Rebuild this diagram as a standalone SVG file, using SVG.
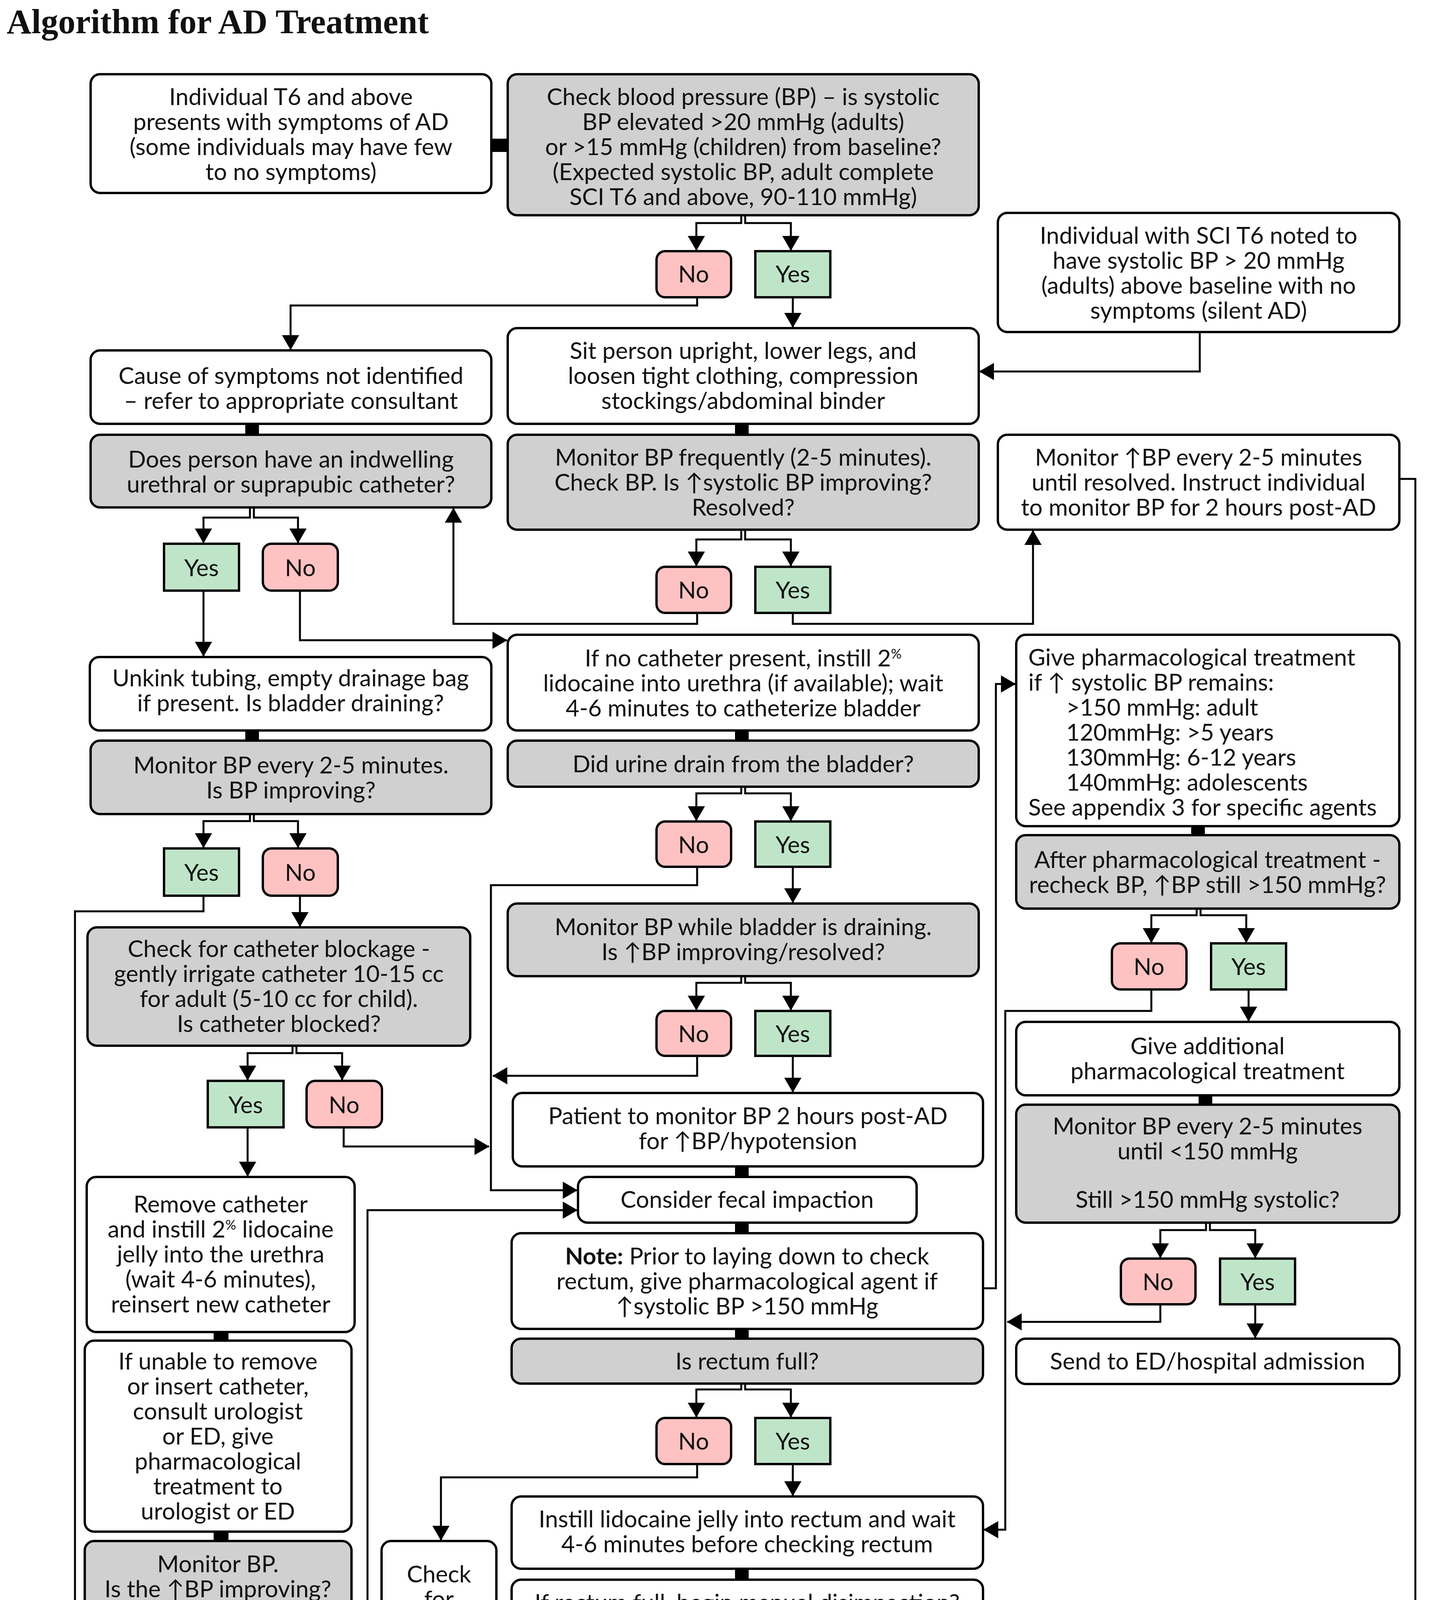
<svg xmlns="http://www.w3.org/2000/svg" width="3682" height="5346" viewBox="0 0 3682 5346">
<style>
.w{fill:#fff;stroke:#000;stroke-width:6}
.g{fill:#d0d0d0;stroke:#000;stroke-width:6}
.y{fill:#bfe5c9;stroke:#000;stroke-width:6}
.n{fill:#ffc2c2;stroke:#000;stroke-width:6}
.c{fill:none;stroke:#000;stroke-width:5}
.k{fill:#000}
text{font-family:Lato,"Liberation Sans","DejaVu Sans",sans-serif;font-size:60px;fill:#111;text-anchor:middle}
.l{text-anchor:start}
.t{font-family:"Liberation Serif",serif;font-weight:bold;font-size:88px;text-anchor:start}
</style>
<defs>
<marker id="a" viewBox="0 0 38 44" refX="37" refY="22" markerWidth="38" markerHeight="44" markerUnits="userSpaceOnUse" orient="auto"><path d="M0,0 L38,22 L0,44 z"/></marker>
</defs>
<rect width="3682" height="5346" fill="#fff"/>
<text class="t" x="17" y="85">Algorithm for AD Treatment</text>

<g id="connectors">
<g class="c" marker-end="url(#a)">
<path d="M1898,551 V571 H1783 V641"/><path d="M1908,551 V571 H2025 V641"/>
<path d="M640,1299 V1325 H521 V1390"/><path d="M650,1299 V1325 H763 V1390"/>
<path d="M1898,1356 V1381 H1783 V1449"/><path d="M1908,1356 V1381 H2025 V1449"/>
<path d="M640,2084 V2102 H521 V2170"/><path d="M650,2084 V2102 H763 V2170"/>
<path d="M1898,2014 V2031 H1783 V2101"/><path d="M1908,2014 V2031 H2025 V2101"/>
<path d="M3064,2326 V2343 H2948 V2413"/><path d="M3074,2326 V2343 H3191 V2413"/>
<path d="M749,2677 V2696 H634 V2765"/><path d="M759,2677 V2696 H876 V2765"/>
<path d="M1898,2499 V2516 H1783 V2586"/><path d="M1908,2499 V2516 H2025 V2586"/>
<path d="M3088,3130 V3149 H2971 V3220"/><path d="M3098,3130 V3149 H3214 V3220"/>
<path d="M1898,3542 V3557 H1783 V3628"/><path d="M1908,3542 V3557 H2025 V3628"/>
<path d="M555,4128 V4152 H437 V4222"/><path d="M565,4128 V4152 H682 V4222"/>
<path d="M3088,4369 V4390 H2971 V4459"/><path d="M3098,4369 V4390 H3214 V4459"/>
<path d="M716,5009 V5032 H599 V5102"/><path d="M726,5009 V5032 H843 V5102"/>
<path d="M3088,5008 V5032 H2971 V5102"/><path d="M3098,5008 V5032 H3214 V5102"/>
<path d="M1785,761 V782 H744 V895"/>
<path d="M2030,761 V838"/>
<path d="M3072,850 V951 H2508"/>
<path d="M521,1512 V1680"/>
<path d="M768,1512 V1639 H1298"/>
<path d="M1785,1569 V1597 H1161 V1301"/>
<path d="M2030,1569 V1597 H2645 V1358"/>
<path d="M521,2293 V2333 H192 V4533 H433"/>
<path d="M768,2293 V2372"/>
<path d="M1785,2219 V2266 H1257 V3047 H1478"/>
<path d="M2030,2219 V2311"/>
<path d="M2948,2533 V2588 H2574 V3916 H2519"/>
<path d="M3197,2533 V2614"/>
<path d="M1785,2703 V2754 H1262"/>
<path d="M2030,2703 V2796"/>
<path d="M634,2886 V3011"/>
<path d="M880,2886 V2935 H1252"/>
<path d="M2971,3339 V3384 H2579"/>
<path d="M3214,3339 V3425"/>
<path d="M2517,3298 H2550 V1751 H2600"/>
<path d="M1785,3748 V3782 H1129 V3943"/>
<path d="M2030,3748 V3829"/>
<path d="M685,4342 V4368 H941 V3098 H1478"/>
<path d="M437,4342 V4760"/>
<path d="M1129,4368 V4871 H1253"/>
<path d="M2453,4275 H2600"/>
<path d="M2965,4581 V4712 H2854 V4870 H2574"/>
<path d="M3214,4581 V4760"/>
<path d="M3583,1226 H3624 V4652 H3218"/>
<path d="M595,5220 V5296 H1161 V5175 H1253"/>
<path d="M848,5220 V5259 H1053 V4937 H1253"/>
<path d="M2966,5220 V5260 H2758 V4937 H2574"/>
<path d="M3219,5220 V5296 H2656 V5177 H2574"/>
</g>
<g class="k">
<rect x="1258" y="355" width="42" height="34"/>
<rect x="628" y="1085" width="35" height="28"/>
<rect x="628" y="1870" width="35" height="26"/>
<rect x="547" y="3410" width="38" height="22"/>
<rect x="547" y="3921" width="38" height="24"/>
<rect x="1882" y="1085" width="35" height="28"/>
<rect x="1882" y="1870" width="35" height="26"/>
<rect x="1882" y="2986" width="35" height="27"/>
<rect x="1882" y="3130" width="35" height="27"/>
<rect x="1882" y="3402" width="35" height="25"/>
<rect x="1882" y="4016" width="35" height="28"/>
<rect x="1882" y="4160" width="35" height="22"/>
<rect x="1882" y="4369" width="35" height="28"/>
<rect x="1882" y="4699" width="35" height="29"/>
<rect x="1882" y="5031" width="35" height="26"/>
<rect x="3050" y="2115" width="35" height="23"/>
<rect x="3069" y="2804" width="35" height="24"/>
</g>
</g>

<g id="n_start"><rect class="w" x="232" y="190" width="1026" height="304" rx="24"/>
<text x="745" y="269">Individual T6 and above</text><text x="745" y="333">presents with symptoms of AD</text><text x="745" y="397">(some individuals may have few</text><text x="745" y="461">to no symptoms)</text></g>

<g id="n_checkbp"><rect class="g" x="1300" y="190" width="1206" height="361" rx="24"/>
<text x="1903" y="269">Check blood pressure (BP) – is systolic</text><text x="1903" y="333">BP elevated &gt;20 mmHg (adults)</text><text x="1903" y="397">or &gt;15 mmHg (children) from baseline?</text><text x="1903" y="461">(Expected systolic BP, adult complete</text><text x="1903" y="525">SCI T6 and above, 90-110 mmHg)</text></g>

<g id="no1"><rect class="n" x="1681" y="643" width="191" height="118" rx="22"/><text x="1776" y="723">No</text></g>
<g id="yes1"><rect class="y" x="1934" y="643" width="192" height="118"/><text x="2030" y="723">Yes</text></g>

<g id="n_silent"><rect class="w" x="2555" y="545" width="1028" height="305" rx="24"/>
<text x="3069" y="624">Individual with SCI T6 noted to</text><text x="3069" y="688">have systolic BP &gt; 20 mmHg</text><text x="3069" y="752">(adults) above baseline with no</text><text x="3069" y="816">symptoms (silent AD)</text></g>

<g id="n_cause"><rect class="w" x="232" y="897" width="1026" height="188" rx="24"/>
<text x="745" y="983">Cause of symptoms not identified</text><text x="745" y="1047">– refer to appropriate consultant</text></g>

<g id="n_sit"><rect class="w" x="1300" y="840" width="1206" height="245" rx="24"/>
<text x="1903" y="919">Sit person upright, lower legs, and</text><text x="1903" y="983">loosen tight clothing, compression</text><text x="1903" y="1047">stockings/abdominal binder</text></g>

<g id="n_cath"><rect class="g" x="232" y="1113" width="1026" height="186" rx="24"/>
<text x="745" y="1197">Does person have an indwelling</text><text x="745" y="1261">urethral or suprapubic catheter?</text></g>

<g id="n_monfreq"><rect class="g" x="1300" y="1113" width="1206" height="243" rx="24"/>
<text x="1903" y="1192">Monitor BP frequently (2-5 minutes).</text><text x="1903" y="1256">Check BP. Is ↑systolic BP improving?</text><text x="1903" y="1320">Resolved?</text></g>

<g id="n_monres"><rect class="w" x="2555" y="1113" width="1028" height="243" rx="24"/>
<text x="3069" y="1192">Monitor ↑BP every 2-5 minutes</text><text x="3069" y="1256">until resolved. Instruct individual</text><text x="3069" y="1320">to monitor BP for 2 hours post-AD</text></g>

<g id="yes2"><rect class="y" x="420" y="1392" width="192" height="120"/><text x="516" y="1475">Yes</text></g>
<g id="no2"><rect class="n" x="673" y="1392" width="192" height="120" rx="22"/><text x="769" y="1475">No</text></g>
<g id="no3"><rect class="n" x="1681" y="1451" width="191" height="118" rx="22"/><text x="1776" y="1532">No</text></g>
<g id="yes3"><rect class="y" x="1934" y="1451" width="192" height="118"/><text x="2030" y="1532">Yes</text></g>

<g id="n_unkink"><rect class="w" x="230" y="1682" width="1028" height="188" rx="24"/>
<text x="744" y="1757">Unkink tubing, empty drainage bag</text><text x="744" y="1821">if present. Is bladder draining?</text></g>

<g id="n_nocath"><rect class="w" x="1300" y="1625" width="1206" height="245" rx="24"/>
<text x="1903" y="1706">If no catheter present, instill 2<tspan font-size="34" dy="-20">%</tspan></text><text x="1903" y="1770">lidocaine into urethra (if available); wait</text><text x="1903" y="1834">4-6 minutes to catheterize bladder</text></g>

<g id="n_pharm"><rect class="w" x="2602" y="1625" width="981" height="490" rx="24"/>
<text class="l" x="2633" y="1704">Give pharmacological treatment</text><text class="l" x="2633" y="1768">if ↑ systolic BP remains:</text><text class="l" x="2730" y="1832">&gt;150 mmHg: adult</text><text class="l" x="2730" y="1896">120mmHg: &gt;5 years</text><text class="l" x="2730" y="1960">130mmHg: 6-12 years</text><text class="l" x="2730" y="2024">140mmHg: adolescents</text><text class="l" x="2633" y="2088">See appendix 3 for specific agents</text></g>

<g id="n_mon25"><rect class="g" x="232" y="1896" width="1026" height="188" rx="24"/>
<text x="745" y="1980">Monitor BP every 2-5 minutes.</text><text x="745" y="2044">Is BP improving?</text></g>

<g id="n_urine"><rect class="g" x="1300" y="1896" width="1206" height="118" rx="24"/>
<text x="1903" y="1977">Did urine drain from the bladder?</text></g>

<g id="no4"><rect class="n" x="1681" y="2103" width="191" height="116" rx="22"/><text x="1776" y="2184">No</text></g>
<g id="yes4"><rect class="y" x="1934" y="2103" width="192" height="116"/><text x="2030" y="2184">Yes</text></g>

<g id="n_after"><rect class="g" x="2602" y="2138" width="981" height="188" rx="24"/>
<text x="3092" y="2222">After pharmacological treatment -</text><text x="3092" y="2286">recheck BP, ↑BP still &gt;150 mmHg?</text></g>

<g id="yes5"><rect class="y" x="420" y="2172" width="192" height="121"/><text x="516" y="2255">Yes</text></g>
<g id="no5"><rect class="n" x="673" y="2172" width="192" height="121" rx="22"/><text x="769" y="2255">No</text></g>

<g id="n_block"><rect class="g" x="224" y="2374" width="980" height="303" rx="24"/>
<text x="714" y="2450">Check for catheter blockage -</text><text x="714" y="2514">gently irrigate catheter 10-15 cc</text><text x="714" y="2578">for adult (5-10 cc for child).</text><text x="714" y="2642">Is catheter blocked?</text></g>

<g id="n_draining"><rect class="g" x="1300" y="2313" width="1206" height="186" rx="24"/>
<text x="1903" y="2394">Monitor BP while bladder is draining.</text><text x="1903" y="2458">Is ↑BP improving/resolved?</text></g>

<g id="no6"><rect class="n" x="2847" y="2415" width="191" height="118" rx="22"/><text x="2942" y="2496">No</text></g>
<g id="yes6"><rect class="y" x="3101" y="2415" width="192" height="118"/><text x="3197" y="2496">Yes</text></g>

<g id="no7"><rect class="n" x="1681" y="2588" width="191" height="115" rx="22"/><text x="1776" y="2668">No</text></g>
<g id="yes7"><rect class="y" x="1934" y="2588" width="192" height="115"/><text x="2030" y="2668">Yes</text></g>

<g id="n_addl"><rect class="w" x="2602" y="2616" width="981" height="188" rx="24"/>
<text x="3092" y="2699">Give additional</text><text x="3092" y="2763">pharmacological treatment</text></g>

<g id="yes8"><rect class="y" x="532" y="2767" width="194" height="119"/><text x="629" y="2850">Yes</text></g>
<g id="no8"><rect class="n" x="785" y="2767" width="193" height="119" rx="22"/><text x="881" y="2850">No</text></g>

<g id="n_patient"><rect class="w" x="1313" y="2798" width="1204" height="188" rx="24"/>
<text x="1915" y="2878">Patient to monitor BP 2 hours post-AD</text><text x="1915" y="2942">for ↑BP/hypotension</text></g>

<g id="n_mon150"><rect class="g" x="2602" y="2828" width="981" height="302" rx="24"/>
<text x="3092" y="2904">Monitor BP every 2-5 minutes</text><text x="3092" y="2968">until &lt;150 mmHg</text><text x="3092" y="3092">Still &gt;150 mmHg systolic?</text></g>

<g id="n_remove"><rect class="w" x="222" y="3013" width="686" height="397" rx="24"/>
<text x="565" y="3104">Remove catheter</text><text x="565" y="3168">and instill 2<tspan font-size="34" dy="-20">%</tspan><tspan dy="20"> lidocaine</tspan></text><text x="565" y="3232">jelly into the urethra</text><text x="565" y="3296">(wait 4-6 minutes),</text><text x="565" y="3360">reinsert new catheter</text></g>

<g id="n_fecal"><rect class="w" x="1480" y="3013" width="867" height="117" rx="24"/>
<text x="1913" y="3092">Consider fecal impaction</text></g>

<g id="n_note"><rect class="w" x="1310" y="3157" width="1207" height="245" rx="24"/>
<text x="1913" y="3237"><tspan font-weight="bold">Note:</tspan> Prior to laying down to check</text><text x="1913" y="3301">rectum, give pharmacological agent if</text><text x="1913" y="3365">↑systolic BP &gt;150 mmHg</text></g>

<g id="no9"><rect class="n" x="2870" y="3222" width="191" height="117" rx="22"/><text x="2965" y="3303">No</text></g>
<g id="yes9"><rect class="y" x="3124" y="3222" width="192" height="117"/><text x="3220" y="3303">Yes</text></g>

<g id="n_ed"><rect class="w" x="2602" y="3427" width="981" height="116" rx="24"/>
<text x="3092" y="3506">Send to ED/hospital admission</text></g>

<g id="n_rectum"><rect class="g" x="1310" y="3427" width="1207" height="115" rx="24"/>
<text x="1913" y="3506">Is rectum full?</text></g>

<g id="n_unable"><rect class="w" x="217" y="3432" width="683" height="489" rx="24"/>
<text x="558" y="3506">If unable to remove</text><text x="558" y="3570">or insert catheter,</text><text x="558" y="3634">consult urologist</text><text x="558" y="3698">or ED, give</text><text x="558" y="3762">pharmacological</text><text x="558" y="3826">treatment to</text><text x="558" y="3890">urologist or ED</text></g>

<g id="no10"><rect class="n" x="1681" y="3630" width="191" height="118" rx="22"/><text x="1776" y="3711">No</text></g>
<g id="yes10"><rect class="y" x="1934" y="3630" width="192" height="118"/><text x="2030" y="3711">Yes</text></g>

<g id="n_instill"><rect class="w" x="1310" y="3831" width="1207" height="185" rx="24"/>
<text x="1913" y="3910">Instill lidocaine jelly into rectum and wait</text><text x="1913" y="3974">4-6 minutes before checking rectum</text></g>

<g id="n_monbp"><rect class="g" x="217" y="3945" width="683" height="183" rx="24"/>
<text x="558" y="4025">Monitor BP.</text><text x="558" y="4089">Is the ↑BP improving?</text></g>

<g id="n_trig"><rect class="w" x="977" y="3945" width="294" height="423" rx="24"/>
<text x="1124" y="4051">Check</text><text x="1124" y="4115">for</text><text x="1124" y="4179">other</text><text x="1124" y="4243">obvious</text><text x="1124" y="4307">triggers</text></g>

<g id="n_rfull"><rect class="w" x="1310" y="4044" width="1207" height="116" rx="24"/>
<text x="1913" y="4124">If rectum full, begin manual disimpaction?</text></g>

<g id="n_mon25d"><rect class="w" x="1310" y="4182" width="1207" height="187" rx="24"/>
<text x="1913" y="4264">Monitor BP 2-5 minutes</text><text x="1913" y="4328">during disimpaction</text></g>

<g id="n_disim"><rect class="w" x="2602" y="4182" width="981" height="187" rx="24"/>
<text x="3092" y="4264">Disimination successful,</text><text x="3092" y="4328">↑BP improving/ resolved?</text></g>

<g id="yes11"><rect class="y" x="337" y="4224" width="191" height="118"/><text x="432" y="4305">Yes</text></g>
<g id="no11"><rect class="n" x="590" y="4224" width="191" height="118" rx="22"/><text x="685" y="4305">No</text></g>

<g id="n_elev"><rect class="w" x="1310" y="4397" width="1207" height="302" rx="24"/>
<text x="1913" y="4474">If BP elevates during disimpaction,</text><text x="1913" y="4538">stop disimpaction, give pharmacological</text><text x="1913" y="4602">intervention, and wait 20 minutes.</text><text x="1913" y="4666">Send to ED if elevated BP persists.</text></g>

<g id="no12"><rect class="n" x="2870" y="4461" width="191" height="120" rx="22"/><text x="2965" y="4543">No</text></g>
<g id="yes12"><rect class="y" x="3124" y="4461" width="192" height="120"/><text x="3220" y="4543">Yes</text></g>

<g id="n_noobv"><rect class="w" x="1255" y="4728" width="1317" height="303" rx="24"/>
<text x="1913" y="4803">If no obvious triggers and BP remains</text><text x="1913" y="4867">elevated or reoccurs or unable to manage</text><text x="1913" y="4931">hypotension, send to ER or hospital admission</text><text x="1913" y="4995">for evaluation and management of BP/AD</text></g>

<g id="n_post2h"><rect class="g" x="230" y="4762" width="685" height="247" rx="24"/>
<text x="572" y="4834">Monitor BP post-AD</text><text x="572" y="4898">for 2 hours - recurrent</text><text x="572" y="4962">↑BP or hypotension?</text></g>

<g id="n_postr"><rect class="g" x="2899" y="4762" width="684" height="246" rx="24"/>
<text x="3241" y="4842">Monitor BP post-AD</text><text x="3241" y="4906">– recurrent ↑BP or</text><text x="3241" y="4970">hypotension?</text></g>

<g id="n_postep"><rect class="w" x="1255" y="5057" width="1317" height="246" rx="24"/>
<text x="1913" y="5134">Post-AD episode - document episode and</text><text x="1913" y="5198">treatment, educate patient, evaluate for</text><text x="1913" y="5262">preventative measures/medications</text></g>

<g id="no13"><rect class="n" x="499" y="5104" width="192" height="116" rx="22"/><text x="595" y="5184">No</text></g>
<g id="yes13"><rect class="y" x="752" y="5104" width="192" height="116"/><text x="848" y="5184">Yes</text></g>
<g id="yes14"><rect class="y" x="2870" y="5104" width="191" height="116"/><text x="2965" y="5184">Yes</text></g>
<g id="no14"><rect class="n" x="3124" y="5104" width="190" height="116" rx="22"/><text x="3219" y="5184">No</text></g>
</svg>
